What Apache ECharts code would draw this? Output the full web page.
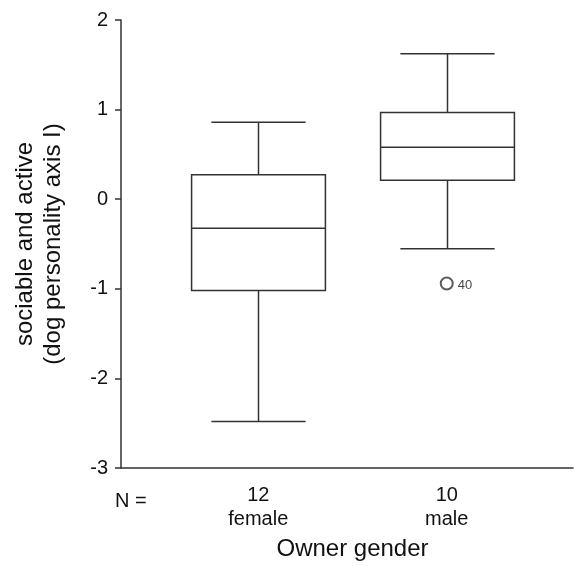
<!DOCTYPE html>
<html>
<head>
<meta charset="utf-8">
<script src="https://cdn.jsdelivr.net/npm/echarts@6/dist/echarts.min.js"></script>
<style>
  html, body { margin: 0; padding: 0; background: #fff; }
  #chart { width: 574px; height: 566px; }
</style>
</head>
<body>
<div id="chart"></div>
<script>
// values
const categories = ['female', 'male']
const counts = [12, 10]
const whiskerLow = [-2.51, -0.57]
const q1 = [-1.04, 0.20]
const median = [-0.34, 0.57]
const q3 = [0.26, 0.96]
const whiskerHigh = [0.85, 1.62]
const outlierCat = [1]
const outlierVal = [-0.96]
const outlierId = ['40']
const yTicks = [-3, -2, -1, 0, 1, 2]

const lineColor = '#333'
const textColor = '#111'
const font = '"Liberation Sans", Arial, sans-serif'

const boxData = categories.map((c, i) => [i, whiskerLow[i], q1[i], median[i], q3[i], whiskerHigh[i]])
const outlierData = outlierCat.map((c, i) => ({ value: [c, outlierVal[i]], id: outlierId[i] }))

function renderBox(params, api) {
  const i = api.value(0)
  const band = api.size([1, 0])[0]
  const boxW = band * 0.71
  const capW = band * 0.5
  const lo = api.coord([i, api.value(1)])
  const b1 = api.coord([i, api.value(2)])
  const md = api.coord([i, api.value(3)])
  const b3 = api.coord([i, api.value(4)])
  const hi = api.coord([i, api.value(5)])
  const x = Math.round(lo[0]) + 0.5
  const style = { stroke: lineColor, lineWidth: 1.5, fill: null }
  const line = (x1, y1, x2, y2) => ({ type: 'line', shape: { x1, y1, x2, y2 }, style })
  return {
    type: 'group',
    children: [
      { type: 'rect', shape: { x: x - boxW / 2, y: b3[1], width: boxW, height: b1[1] - b3[1] }, style: { stroke: lineColor, lineWidth: 1.5, fill: '#fff' } },
      line(x - boxW / 2, md[1], x + boxW / 2, md[1]),
      line(x, b3[1], x, hi[1]),
      line(x, b1[1], x, lo[1]),
      line(x - capW / 2, hi[1], x + capW / 2, hi[1]),
      line(x - capW / 2, lo[1], x + capW / 2, lo[1])
    ]
  }
}

const chart = echarts.init(document.getElementById('chart'))
chart.setOption({
  animation: false,
  textStyle: { fontFamily: font },
  title: {
    text: 'N =',
    left: 110,
    top: 484,
    textStyle: { fontFamily: font, fontSize: 20, fontWeight: 'normal', color: textColor, lineHeight: 24 }
  },
  grid: [
    { left: 164, right: 33, top: 20, bottom: 98 },
    { left: 121, right: 1, top: 20, bottom: 98 }
  ],
  xAxis: [
    {
      gridIndex: 0,
      type: 'category',
      data: categories,
      offset: 7,
      axisLine: { show: false },
      axisTick: { show: true, alignWithLabel: true, length: 4, lineStyle: { color: '#777' } },
      axisLabel: {
        margin: 11,
        fontSize: 20,
        lineHeight: 24,
        color: textColor,
        formatter: (v, idx) => counts[idx] + '\n' + v
      },
      name: 'Owner gender',
      nameLocation: 'middle',
      nameGap: 65,
      nameTextStyle: { fontSize: 24, color: textColor }
    },
    {
      gridIndex: 1,
      type: 'value',
      min: 0,
      max: 1,
      axisLine: { show: true, onZero: false, lineStyle: { color: lineColor, width: 1.5 } },
      axisTick: { show: false },
      axisLabel: { show: false },
      splitLine: { show: false }
    }
  ],
  yAxis: [
    { gridIndex: 0, type: 'value', min: -3, max: 2, show: false },
    {
      gridIndex: 1,
      type: 'value',
      min: yTicks[0],
      max: yTicks[yTicks.length - 1],
      interval: 1,
      axisLine: { show: true, onZero: false, lineStyle: { color: lineColor, width: 1.5 } },
      axisTick: { show: true, length: 6, lineStyle: { color: lineColor, width: 1.5 } },
      axisLabel: { margin: 13, fontSize: 20, color: textColor },
      splitLine: { show: false },
      name: 'sociable and active\n(dog personality axis I)',
      nameLocation: 'middle',
      nameGap: 54,
      nameTextStyle: { fontSize: 24, lineHeight: 28, color: textColor }
    }
  ],
  series: [
    {
      type: 'custom',
      xAxisIndex: 0,
      yAxisIndex: 0,
      data: boxData,
      encode: { x: 0, y: [1, 2, 3, 4, 5] },
      renderItem: renderBox,
      z: 2
    },
    {
      type: 'scatter',
      xAxisIndex: 0,
      yAxisIndex: 0,
      data: outlierData,
      symbol: 'emptyCircle',
      symbolSize: 12,
      itemStyle: { color: lineColor, borderColor: lineColor, borderWidth: 1.3 },
      label: {
        show: true,
        position: 'right',
        distance: 4,
        offset: [0, 2],
        fontSize: 13,
        color: textColor,
        formatter: (p) => p.data.id
      },
      z: 3
    }
  ]
})
</script>
</body>
</html>
